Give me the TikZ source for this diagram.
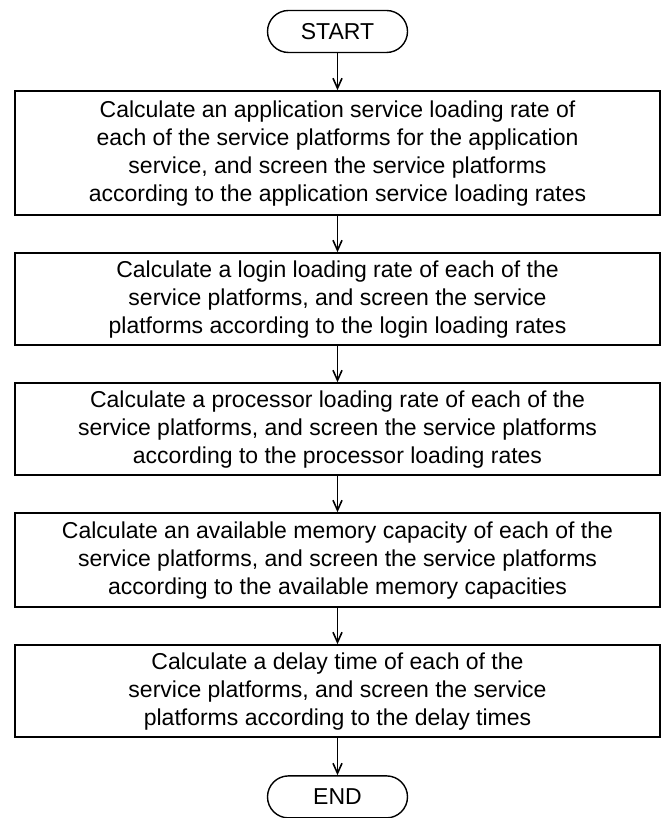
\documentclass[tikz,border=0pt]{standalone}
\usepackage{fontspec}
\setmainfont{Liberation Sans}
\usetikzlibrary{arrows.meta, positioning}
\tikzset{
  terminal/.style={rectangle, draw=black, rounded corners=21pt,
    minimum width=140pt, minimum height=42pt, inner sep=0pt,
    font=\fontsize{23}{28}\selectfont, line width=1.4pt},
  procbox/.style={rectangle, draw=black, align=center,
    minimum width=645pt, minimum height=92pt, inner sep=4pt,
    font=\fontsize{23}{28}\selectfont, line width=2pt},
  arrow/.style={-{Straight Barb[length=10pt,width=9pt]}, line width=1.6pt}
}

\begin{document}
\begin{tikzpicture}
  \useasboundingbox (0,0) rectangle (669pt,818pt);
  \node[terminal] (start) at (337.5pt,786.5pt) {START};
  \node[procbox, minimum height=124pt, below=37pt of start] (appload) {Calculate an application service loading rate of\\
    each of the service platforms for the application\\
    service, and screen the service platforms\\
    according to the application service loading rates};
  \node[procbox, below=36pt of appload] (loginload) {Calculate a login loading rate of each of the\\
    service platforms, and screen the service\\
    platforms according to the login loading rates};
  \node[procbox, below=36pt of loginload] (cpuload) {Calculate a processor loading rate of each of the\\
    service platforms, and screen the service platforms\\
    according to the processor loading rates};
  \node[procbox, minimum height=94pt, below=36pt of cpuload] (memcap) {Calculate an available memory capacity of each of the\\
    service platforms, and screen the service platforms\\
    according to the available memory capacities};
  \node[procbox, below=36pt of memcap] (delay) {Calculate a delay time of each of the\\
    service platforms, and screen the service\\
    platforms according to the delay times};
  \node[terminal, below=37pt of delay] (end) {END};
  \foreach \a/\b in {start/appload, appload/loginload, loginload/cpuload,
    cpuload/memcap, memcap/delay, delay/end}
    \draw[arrow] (\a) -- (\b);
\end{tikzpicture}
\end{document}
